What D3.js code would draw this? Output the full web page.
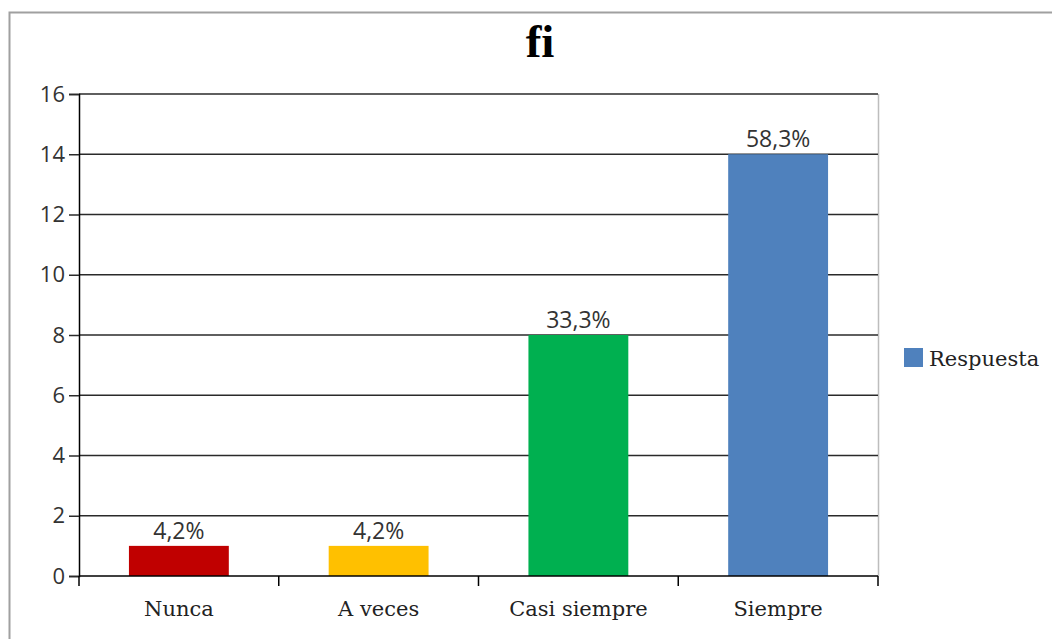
<!DOCTYPE html>
<html>
<head>
<meta charset="utf-8">
<script src="https://cdn.jsdelivr.net/npm/d3@7"></script>
<style>
  body { margin: 0; background: #fff; }
</style>
</head>
<body>
<div id="chart"></div>
<script>
// data
const categories = ["Nunca", "A veces", "Casi siempre", "Siempre"];
const values = [1, 1, 8, 14];
const percentLabels = ["4,2%", "4,2%", "33,3%", "58,3%"];
const barColors = ["#C00000", "#FFC000", "#00B050", "#4F81BD"];
const yTicks = [0, 2, 4, 6, 8, 10, 12, 14, 16];
const seriesName = "Respuesta";

const width = 1052, height = 639;
const plot = { left: 79, right: 878, top: 94, bottom: 576 };

const svg = d3.select("#chart")
    .append("svg")
    .attr("width", width)
    .attr("height", height);

// outer chart frame
svg.append("path")
    .attr("d", "M9.5," + height + " V12.5 H" + width)
    .attr("fill", "none")
    .attr("stroke", "#a0a0a0")
    .attr("stroke-width", 2);

const x = d3.scaleBand()
    .domain(categories)
    .range([plot.left, plot.right])
    .paddingInner(0.5)
    .paddingOuter(0.25);

const y = d3.scaleLinear()
    .domain([0, 16])
    .range([plot.bottom, plot.top]);

// right edge of plot area
svg.append("line")
    .attr("x1", plot.right + 0.5).attr("x2", plot.right + 0.5)
    .attr("y1", plot.top).attr("y2", plot.bottom)
    .attr("stroke", "#bdbdbd")
    .attr("stroke-width", 1.5);

// gridlines
svg.append("g")
    .selectAll("line")
    .data(yTicks.filter(d => d > 0))
    .join("line")
    .attr("x1", plot.left).attr("x2", plot.right)
    .attr("y1", d => y(d)).attr("y2", d => y(d))
    .attr("stroke", "#2a2a2a")
    .attr("stroke-width", 1.5);

// y axis
const yAxis = svg.append("g")
    .attr("transform", "translate(" + plot.left + ",0)")
    .call(d3.axisLeft(y).tickValues(yTicks).tickSize(10).tickPadding(4));
yAxis.select(".domain").attr("stroke", "#000").attr("stroke-width", 1.5);
yAxis.selectAll(".tick line").attr("stroke", "#2a2a2a").attr("stroke-width", 1.5);
yAxis.selectAll(".tick text")
    .attr("font-family", "'Open Sans', 'Noto Sans', sans-serif")
    .attr("font-size", 22)
    .attr("fill", "#333");

// bars
svg.append("g")
    .selectAll("rect")
    .data(values)
    .join("rect")
    .attr("x", (d, i) => x(categories[i]))
    .attr("y", d => y(d))
    .attr("width", x.bandwidth())
    .attr("height", d => y(0) - y(d))
    .attr("fill", (d, i) => barColors[i]);

// data labels
svg.append("g")
    .selectAll("text")
    .data(values)
    .join("text")
    .attr("x", (d, i) => x(categories[i]) + x.bandwidth() / 2)
    .attr("y", d => y(d) - 7)
    .attr("text-anchor", "middle")
    .attr("font-family", "'Open Sans', 'Noto Sans', sans-serif")
    .attr("font-size", 23)
    .attr("fill", "#333")
    .text((d, i) => percentLabels[i]);

// x axis with ticks at category boundaries
const boundaries = d3.range(categories.length + 1).map(i => plot.left + i * (plot.right - plot.left) / categories.length);
svg.append("line")
    .attr("x1", plot.left).attr("x2", plot.right)
    .attr("y1", plot.bottom).attr("y2", plot.bottom)
    .attr("stroke", "#000")
    .attr("stroke-width", 1.5);
svg.append("g")
    .selectAll("line")
    .data(boundaries)
    .join("line")
    .attr("x1", d => d).attr("x2", d => d)
    .attr("y1", plot.bottom).attr("y2", plot.bottom + 10)
    .attr("stroke", "#000")
    .attr("stroke-width", 1.5);
svg.append("g")
    .selectAll("text")
    .data(categories)
    .join("text")
    .attr("x", d => x(d) + x.bandwidth() / 2)
    .attr("y", 616)
    .attr("text-anchor", "middle")
    .attr("font-family", "'DejaVu Serif', serif")
    .attr("font-size", 21)
    .attr("fill", "#222")
    .text(d => d);

// title
svg.append("text")
    .attr("x", 540)
    .attr("y", 57)
    .attr("text-anchor", "middle")
    .attr("font-family", "'Liberation Serif', serif")
    .attr("font-weight", "bold")
    .attr("font-size", 47)
    .attr("fill", "#000")
    .text("fi");

// legend
const legend = svg.append("g").attr("transform", "translate(904,348)");
legend.append("rect")
    .attr("width", 19).attr("height", 19)
    .attr("fill", barColors[3]);
legend.append("text")
    .attr("x", 25).attr("y", 18)
    .attr("font-family", "'DejaVu Serif', serif")
    .attr("font-size", 21)
    .attr("fill", "#222")
    .text(seriesName);
</script>
</body>
</html>
